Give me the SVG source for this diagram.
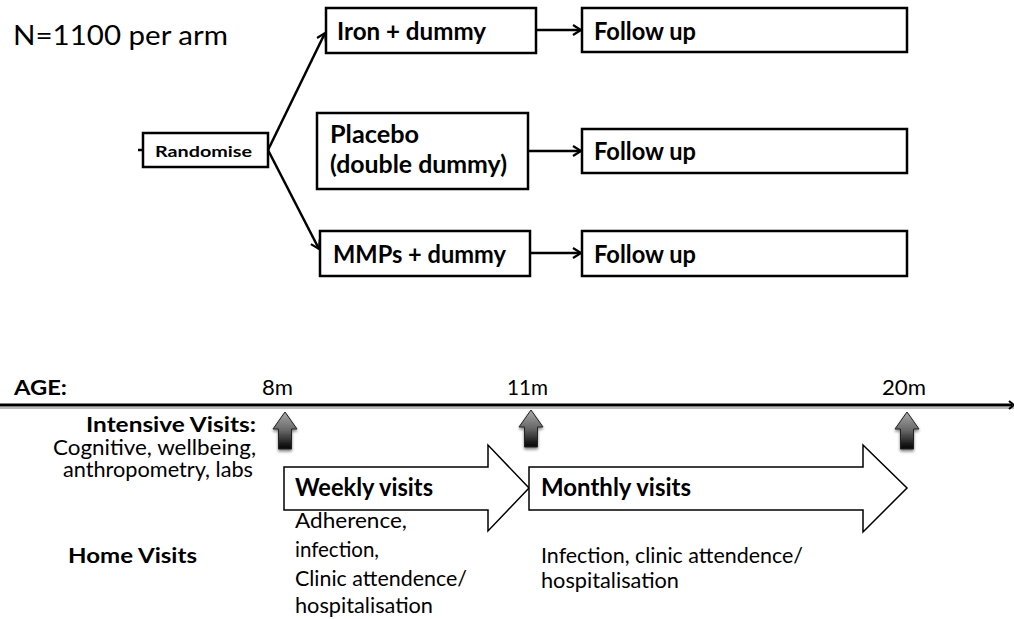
<svg xmlns="http://www.w3.org/2000/svg" width="1014" height="619" viewBox="0 0 1014 619">
<defs>
<style>
.box{fill:#fff;stroke:#000;stroke-width:2.5}
.t{font-family:Lato,"Open Sans","Liberation Sans",sans-serif;fill:#000}
.b{font-weight:bold}
.con{stroke:#000;stroke-width:2.5;fill:none}
.flow{fill:#fff;stroke:#000;stroke-width:1.5}
</style>
<marker id="ah" markerWidth="12" markerHeight="12" refX="10" refY="6" orient="auto" markerUnits="userSpaceOnUse">
<path d="M2,1 L10,6 L2,11" fill="none" stroke="#000" stroke-width="2.2"/>
</marker>
<linearGradient id="ug" x1="0" y1="0" x2="0" y2="1">
<stop offset="0" stop-color="#aaa"/>
<stop offset="0.5" stop-color="#666"/>
<stop offset="1" stop-color="#000"/>
</linearGradient>
<filter id="sh" x="-50%" y="-50%" width="200%" height="200%">
<feGaussianBlur in="SourceAlpha" stdDeviation="1.5"/>
<feOffset dx="0" dy="2" result="o"/>
<feComponentTransfer><feFuncA type="linear" slope="0.5"/></feComponentTransfer>
<feMerge><feMergeNode/><feMergeNode in="SourceGraphic"/></feMerge>
</filter>
<path id="up" d="M0,0 L12,17 L6.5,17 L6.5,37 L-6.5,37 L-6.5,17 L-12,17 Z" fill="url(#ug)" stroke="#222" stroke-width="1"/>
</defs>
<rect width="1014" height="619" fill="#fff"/>

<text class="t" x="13" y="45" font-size="27" textLength="215" lengthAdjust="spacingAndGlyphs">N=1100 per arm</text>

<g id="connectors">
<line class="con" x1="138" y1="150" x2="143" y2="150"/>
<line class="con" x1="268" y1="150" x2="325" y2="33" marker-end="url(#ah)"/>
<line class="con" x1="268" y1="150" x2="319" y2="249" marker-end="url(#ah)"/>
<line class="con" x1="536" y1="30" x2="581" y2="30" marker-end="url(#ah)"/>
<line class="con" x1="528" y1="151" x2="581" y2="151" marker-end="url(#ah)"/>
<line class="con" x1="530" y1="253" x2="581" y2="253" marker-end="url(#ah)"/>
</g>

<g id="randomise">
<rect class="box" x="143" y="133" width="125" height="34"/>
<text class="t b" x="155" y="157" font-size="15.5" textLength="97" lengthAdjust="spacingAndGlyphs">Randomise</text>
</g>
<g id="iron">
<rect class="box" x="326" y="8" width="210" height="45"/>
<text class="t b" x="337" y="40" font-size="24" textLength="149" lengthAdjust="spacingAndGlyphs">Iron + dummy</text>
</g>
<g id="placebo">
<rect class="box" x="317" y="113" width="211" height="76"/>
<text class="t b" x="330" y="143" font-size="24" textLength="89" lengthAdjust="spacingAndGlyphs">Placebo</text>
<text class="t b" x="330" y="173" font-size="24" textLength="177" lengthAdjust="spacingAndGlyphs">(double  dummy)</text>
</g>
<g id="mmps">
<rect class="box" x="320" y="231" width="210" height="45"/>
<text class="t b" x="333" y="263" font-size="24" textLength="173" lengthAdjust="spacingAndGlyphs">MMPs + dummy</text>
</g>
<g id="follow1">
<rect class="box" x="582" y="8" width="325" height="44"/>
<text class="t b" x="594" y="40" font-size="24" textLength="102" lengthAdjust="spacingAndGlyphs">Follow up</text>
</g>
<g id="follow2">
<rect class="box" x="582" y="129" width="325" height="44"/>
<text class="t b" x="594" y="160" font-size="24" textLength="102" lengthAdjust="spacingAndGlyphs">Follow up</text>
</g>
<g id="follow3">
<rect class="box" x="582" y="231" width="325" height="45"/>
<text class="t b" x="594" y="263" font-size="24" textLength="102" lengthAdjust="spacingAndGlyphs">Follow up</text>
</g>

<g id="timeline">
<line x1="0" y1="408" x2="1014" y2="408" stroke="#bbb" stroke-width="2"/>
<line x1="0" y1="405" x2="1012" y2="405" stroke="#000" stroke-width="3"/>
<path d="M1009,401 L1014,405 L1009,409" fill="none" stroke="#000" stroke-width="2"/>
<text class="t b" x="14" y="395" font-size="21" textLength="53" lengthAdjust="spacingAndGlyphs">AGE:</text>
<text class="t" x="262" y="395" font-size="21" textLength="31" lengthAdjust="spacingAndGlyphs">8m</text>
<text class="t" x="507" y="395" font-size="21" textLength="41" lengthAdjust="spacingAndGlyphs">11m</text>
<text class="t" x="882" y="395" font-size="21" textLength="44" lengthAdjust="spacingAndGlyphs">20m</text>
<use href="#up" x="285" y="412" filter="url(#sh)"/>
<use href="#up" x="531" y="410" filter="url(#sh)"/>
<use href="#up" x="907" y="412" filter="url(#sh)"/>
</g>

<g id="intensive">
<text class="t b" x="256" y="432" font-size="21.5" text-anchor="end" textLength="170" lengthAdjust="spacingAndGlyphs">Intensive Visits:</text>
<text class="t" x="256" y="455" font-size="20.5" text-anchor="end" textLength="203" lengthAdjust="spacingAndGlyphs">Cognitive, wellbeing,</text>
<text class="t" x="253" y="477" font-size="20.5" text-anchor="end" textLength="190" lengthAdjust="spacingAndGlyphs">anthropometry, labs</text>
</g>

<g id="weekly">
<path class="flow" d="M284,467 L488,467 L488,445 L529,488 L488,531 L488,510 L284,510 Z"/>
<text class="t b" x="295" y="496" font-size="24" textLength="138" lengthAdjust="spacingAndGlyphs">Weekly visits</text>
</g>
<g id="monthly">
<path class="flow" d="M529,467 L863,467 L863,445 L907,488 L863,532 L863,510 L529,510 Z"/>
<text class="t b" x="541" y="496" font-size="24" textLength="150" lengthAdjust="spacingAndGlyphs">Monthly visits</text>
</g>

<g id="home">
<text class="t b" x="68" y="563" font-size="21.5" textLength="129" lengthAdjust="spacingAndGlyphs">Home Visits</text>
</g>
<g id="weekly-notes">
<text class="t" x="295" y="528" font-size="20.5" textLength="112" lengthAdjust="spacingAndGlyphs">Adherence,</text>
<text class="t" x="295" y="557" font-size="20.5" textLength="84" lengthAdjust="spacingAndGlyphs">infection,</text>
<text class="t" x="295" y="586" font-size="20.5" textLength="172" lengthAdjust="spacingAndGlyphs">Clinic attendence/</text>
<text class="t" x="295" y="613" font-size="20.5" textLength="138" lengthAdjust="spacingAndGlyphs">hospitalisation</text>
</g>
<g id="monthly-notes">
<text class="t" x="541" y="563" font-size="20.5" textLength="262" lengthAdjust="spacingAndGlyphs">Infection, clinic attendence/</text>
<text class="t" x="541" y="588" font-size="20.5" textLength="138" lengthAdjust="spacingAndGlyphs">hospitalisation</text>
</g>
</svg>
